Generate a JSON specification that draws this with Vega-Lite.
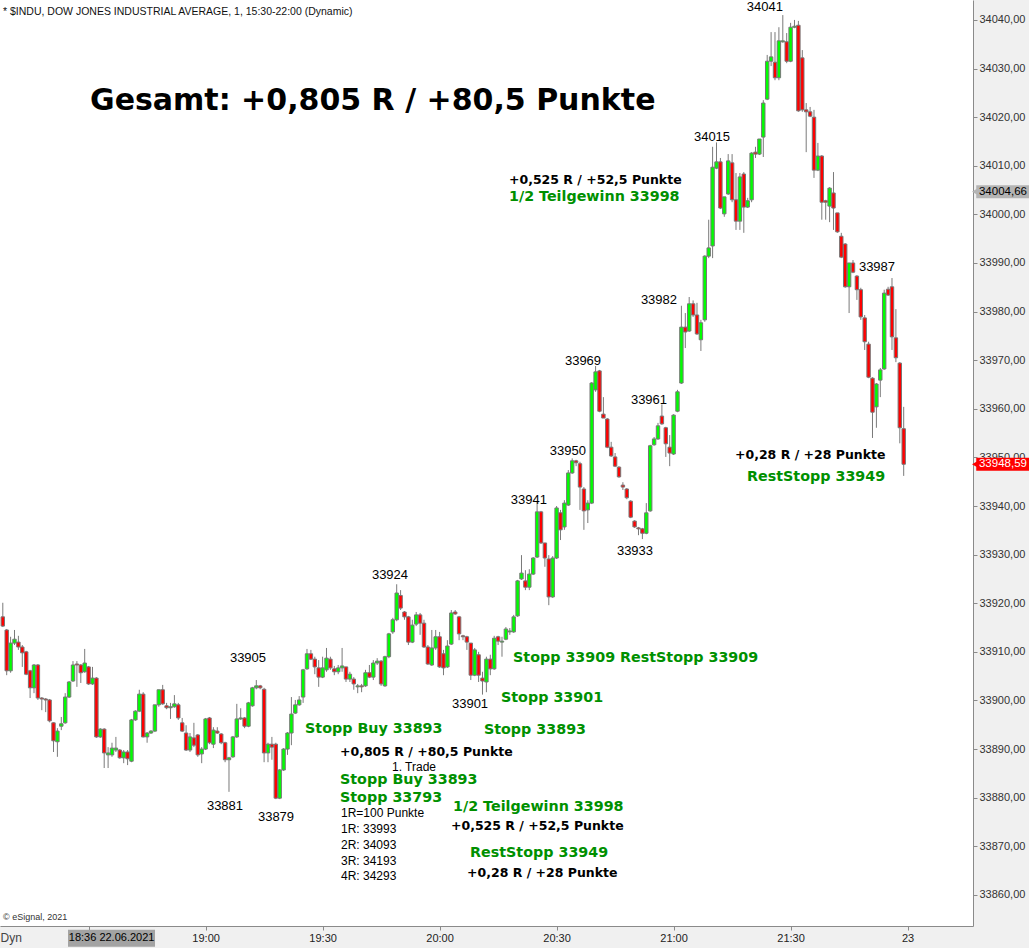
{
"$schema": "https://vega.github.io/schema/vega-lite/v6.json",
"width": 973, "height": 926,
"autosize": {"type": "none"},
"padding": {"left": 0, "top": 0, "right": 56, "bottom": 22},
"background": "#f0f0f0",
"config": {"view": {"fill": "white", "stroke": null}, "font": "Liberation Sans"},
"datasets": {
"candles": [
{"min":8,"open":33917.2,"high":33920.1,"low":33915.1,"close":33915.3},
{"min":9,"open":33914.5,"high":33914.7,"low":33905.2,"close":33906.1},
{"min":10,"open":33906.1,"high":33913.1,"low":33905.7,"close":33911.8},
{"min":11,"open":33911.8,"high":33914.5,"low":33911.4,"close":33912.6},
{"min":12,"open":33912.0,"high":33913.3,"low":33910.4,"close":33911.0},
{"min":13,"open":33911.0,"high":33911.4,"low":33906.9,"close":33909.8},
{"min":14,"open":33910.0,"high":33910.2,"low":33905.2,"close":33905.4},
{"min":15,"open":33906.1,"high":33906.3,"low":33900.5,"close":33902.6},
{"min":16,"open":33902.6,"high":33907.5,"low":33901.5,"close":33907.3},
{"min":17,"open":33907.3,"high":33907.5,"low":33900.1,"close":33900.5},
{"min":18,"open":33900.5,"high":33900.7,"low":33898.0,"close":33900.3},
{"min":19,"open":33900.3,"high":33900.5,"low":33897.6,"close":33900.1},
{"min":20,"open":33900.1,"high":33900.3,"low":33895.5,"close":33895.8},
{"min":21,"open":33895.4,"high":33895.5,"low":33889.4,"close":33891.7},
{"min":22,"open":33891.5,"high":33894.3,"low":33888.4,"close":33893.7},
{"min":23,"open":33894.7,"high":33896.6,"low":33893.9,"close":33895.2},
{"min":24,"open":33895.4,"high":33901.5,"low":33895.2,"close":33900.7},
{"min":25,"open":33900.7,"high":33904.0,"low":33900.5,"close":33903.8},
{"min":26,"open":33904.0,"high":33908.1,"low":33903.8,"close":33907.3},
{"min":27,"open":33907.5,"high":33908.1,"low":33902.8,"close":33907.3},
{"min":28,"open":33907.3,"high":33907.5,"low":33903.6,"close":33905.7},
{"min":29,"open":33905.9,"high":33910.6,"low":33905.7,"close":33907.7},
{"min":30,"open":33906.9,"high":33907.1,"low":33903.2,"close":33903.4},
{"min":31,"open":33903.4,"high":33906.9,"low":33903.2,"close":33904.6},
{"min":32,"open":33904.6,"high":33904.8,"low":33892.3,"close":33892.5},
{"min":33,"open":33892.5,"high":33894.3,"low":33892.3,"close":33894.1},
{"min":34,"open":33894.1,"high":33894.3,"low":33886.1,"close":33889.2},
{"min":35,"open":33888.8,"high":33890.4,"low":33886.1,"close":33889.2},
{"min":36,"open":33888.8,"high":33891.3,"low":33888.4,"close":33890.2},
{"min":37,"open":33889.8,"high":33892.5,"low":33889.4,"close":33890.2},
{"min":38,"open":33889.8,"high":33890.0,"low":33888.0,"close":33888.2},
{"min":39,"open":33888.2,"high":33889.8,"low":33887.1,"close":33889.4},
{"min":40,"open":33889.4,"high":33889.8,"low":33886.7,"close":33888.0},
{"min":41,"open":33887.5,"high":33896.2,"low":33887.3,"close":33896.0},
{"min":42,"open":33896.0,"high":33898.0,"low":33895.8,"close":33897.8},
{"min":43,"open":33897.8,"high":33902.2,"low":33897.6,"close":33901.3},
{"min":44,"open":33901.3,"high":33901.7,"low":33892.4,"close":33892.5},
{"min":45,"open":33892.5,"high":33893.5,"low":33891.3,"close":33893.3},
{"min":46,"open":33893.3,"high":33893.9,"low":33893.1,"close":33893.7},
{"min":47,"open":33893.7,"high":33899.1,"low":33893.5,"close":33899.1},
{"min":48,"open":33899.1,"high":33902.2,"low":33898.7,"close":33902.2},
{"min":49,"open":33902.2,"high":33903.2,"low":33899.1,"close":33899.3},
{"min":50,"open":33898.9,"high":33899.5,"low":33898.2,"close":33898.5},
{"min":51,"open":33898.5,"high":33899.5,"low":33896.2,"close":33898.7},
{"min":52,"open":33898.7,"high":33901.1,"low":33898.5,"close":33899.3},
{"min":53,"open":33899.1,"high":33899.5,"low":33896.0,"close":33896.4},
{"min":54,"open":33895.4,"high":33896.4,"low":33893.5,"close":33893.7},
{"min":55,"open":33893.3,"high":33894.9,"low":33889.6,"close":33889.8},
{"min":56,"open":33889.8,"high":33893.3,"low":33889.4,"close":33892.5},
{"min":57,"open":33892.3,"high":33895.4,"low":33890.4,"close":33890.8},
{"min":58,"open":33892.9,"high":33893.1,"low":33888.4,"close":33888.8},
{"min":59,"open":33889.0,"high":33890.4,"low":33887.1,"close":33890.0},
{"min":60,"open":33890.0,"high":33896.4,"low":33889.8,"close":33896.2},
{"min":61,"open":33896.4,"high":33896.6,"low":33891.0,"close":33891.3},
{"min":62,"open":33891.0,"high":33894.5,"low":33890.2,"close":33893.9},
{"min":63,"open":33893.7,"high":33894.5,"low":33893.1,"close":33893.3},
{"min":64,"open":33893.1,"high":33893.3,"low":33891.0,"close":33891.3},
{"min":65,"open":33891.3,"high":33891.5,"low":33887.3,"close":33887.8},
{"min":66,"open":33887.8,"high":33888.4,"low":33881.2,"close":33888.2},
{"min":67,"open":33888.4,"high":33892.7,"low":33888.2,"close":33892.5},
{"min":68,"open":33892.5,"high":33899.3,"low":33892.3,"close":33896.2},
{"min":69,"open":33896.2,"high":33898.4,"low":33896.0,"close":33896.4},
{"min":70,"open":33896.4,"high":33896.6,"low":33894.3,"close":33894.7},
{"min":71,"open":33894.7,"high":33899.7,"low":33894.5,"close":33899.5},
{"min":72,"open":33898.9,"high":33902.8,"low":33898.7,"close":33902.6},
{"min":73,"open":33902.6,"high":33904.2,"low":33902.3,"close":33903.0},
{"min":74,"open":33903.0,"high":33903.2,"low":33902.3,"close":33902.6},
{"min":75,"open":33902.3,"high":33902.6,"low":33887.3,"close":33889.2},
{"min":76,"open":33889.2,"high":33891.3,"low":33887.3,"close":33891.0},
{"min":77,"open":33891.0,"high":33892.5,"low":33887.8,"close":33890.4},
{"min":78,"open":33891.0,"high":33891.3,"low":33879.7,"close":33879.9},
{"min":79,"open":33879.9,"high":33885.9,"low":33879.7,"close":33885.7},
{"min":80,"open":33885.7,"high":33890.2,"low":33885.5,"close":33890.0},
{"min":81,"open":33890.0,"high":33893.5,"low":33888.8,"close":33893.3},
{"min":82,"open":33893.3,"high":33900.7,"low":33890.8,"close":33897.2},
{"min":83,"open":33897.4,"high":33900.1,"low":33897.2,"close":33899.1},
{"min":84,"open":33899.1,"high":33900.9,"low":33898.9,"close":33900.1},
{"min":85,"open":33900.7,"high":33906.5,"low":33899.5,"close":33906.3},
{"min":86,"open":33906.5,"high":33910.6,"low":33906.3,"close":33909.6},
{"min":87,"open":33909.6,"high":33910.4,"low":33908.3,"close":33908.5},
{"min":88,"open":33908.5,"high":33909.0,"low":33905.4,"close":33906.9},
{"min":89,"open":33906.7,"high":33908.3,"low":33902.8,"close":33904.8},
{"min":90,"open":33904.8,"high":33909.0,"low":33904.6,"close":33906.7},
{"min":91,"open":33906.3,"high":33910.8,"low":33905.9,"close":33908.7},
{"min":92,"open":33908.5,"high":33909.0,"low":33906.3,"close":33906.7},
{"min":93,"open":33906.5,"high":33907.1,"low":33905.2,"close":33905.9},
{"min":94,"open":33905.9,"high":33907.3,"low":33905.4,"close":33906.7},
{"min":95,"open":33906.7,"high":33910.8,"low":33905.9,"close":33907.1},
{"min":96,"open":33906.9,"high":33906.9,"low":33903.8,"close":33904.4},
{"min":97,"open":33904.4,"high":33905.9,"low":33903.8,"close":33905.4},
{"min":98,"open":33904.4,"high":33904.8,"low":33902.2,"close":33903.4},
{"min":99,"open":33902.8,"high":33903.4,"low":33901.5,"close":33903.0},
{"min":100,"open":33903.0,"high":33903.4,"low":33901.7,"close":33902.8},
{"min":101,"open":33903.0,"high":33906.3,"low":33902.8,"close":33905.7},
{"min":102,"open":33905.7,"high":33907.3,"low":33904.6,"close":33904.8},
{"min":103,"open":33904.8,"high":33908.3,"low":33904.2,"close":33907.7},
{"min":104,"open":33907.7,"high":33908.7,"low":33907.3,"close":33908.1},
{"min":105,"open":33908.1,"high":33908.3,"low":33903.0,"close":33903.4},
{"min":106,"open":33903.0,"high":33909.2,"low":33902.8,"close":33909.0},
{"min":107,"open":33909.0,"high":33913.9,"low":33908.7,"close":33913.7},
{"min":108,"open":33914.1,"high":33917.0,"low":33913.7,"close":33916.6},
{"min":109,"open":33916.6,"high":33923.9,"low":33916.3,"close":33922.1},
{"min":110,"open":33921.6,"high":33922.7,"low":33918.6,"close":33919.0},
{"min":111,"open":33918.2,"high":33918.4,"low":33916.6,"close":33917.2},
{"min":112,"open":33917.2,"high":33917.4,"low":33911.4,"close":33912.0},
{"min":113,"open":33912.0,"high":33916.6,"low":33911.8,"close":33915.5},
{"min":114,"open":33915.7,"high":33918.2,"low":33915.3,"close":33917.6},
{"min":115,"open":33917.6,"high":33918.0,"low":33913.5,"close":33915.9},
{"min":116,"open":33915.9,"high":33916.6,"low":33910.8,"close":33911.0},
{"min":117,"open":33911.0,"high":33911.4,"low":33907.3,"close":33907.5},
{"min":118,"open":33907.3,"high":33914.5,"low":33907.1,"close":33910.8},
{"min":119,"open":33910.8,"high":33914.5,"low":33910.4,"close":33913.1},
{"min":120,"open":33913.1,"high":33914.1,"low":33906.7,"close":33906.9},
{"min":121,"open":33909.6,"high":33910.4,"low":33905.2,"close":33906.7},
{"min":122,"open":33906.9,"high":33912.4,"low":33906.7,"close":33911.2},
{"min":123,"open":33911.6,"high":33918.6,"low":33911.4,"close":33918.0},
{"min":124,"open":33918.2,"high":33918.6,"low":33917.6,"close":33917.8},
{"min":125,"open":33917.2,"high":33917.4,"low":33912.4,"close":33913.7},
{"min":126,"open":33913.3,"high":33913.5,"low":33912.4,"close":33913.1},
{"min":127,"open":33913.1,"high":33913.3,"low":33910.4,"close":33912.0},
{"min":128,"open":33911.8,"high":33911.8,"low":33904.2,"close":33905.2},
{"min":129,"open":33905.2,"high":33910.8,"low":33905.0,"close":33910.4},
{"min":130,"open":33909.4,"high":33910.0,"low":33903.8,"close":33905.2},
{"min":131,"open":33904.6,"high":33905.9,"low":33901.2,"close":33904.0},
{"min":132,"open":33903.8,"high":33909.0,"low":33901.7,"close":33908.5},
{"min":133,"open":33908.5,"high":33909.4,"low":33905.2,"close":33906.5},
{"min":134,"open":33906.5,"high":33913.3,"low":33906.3,"close":33912.8},
{"min":135,"open":33913.1,"high":33913.3,"low":33911.4,"close":33912.2},
{"min":136,"open":33912.0,"high":33913.1,"low":33909.0,"close":33912.2},
{"min":137,"open":33912.6,"high":33915.1,"low":33912.4,"close":33914.7},
{"min":138,"open":33914.1,"high":33914.9,"low":33913.5,"close":33914.3},
{"min":139,"open":33914.1,"high":33917.6,"low":33913.9,"close":33917.2},
{"min":140,"open":33917.4,"high":33924.8,"low":33917.2,"close":33924.6},
{"min":141,"open":33925.0,"high":33929.9,"low":33924.8,"close":33926.2},
{"min":142,"open":33924.6,"high":33926.8,"low":33922.7,"close":33923.3},
{"min":143,"open":33923.3,"high":33927.0,"low":33922.7,"close":33926.0},
{"min":144,"open":33926.0,"high":33929.5,"low":33925.8,"close":33929.3},
{"min":145,"open":33929.5,"high":33940.9,"low":33929.3,"close":33938.8},
{"min":146,"open":33938.8,"high":33939.0,"low":33932.2,"close":33932.4},
{"min":147,"open":33932.4,"high":33932.4,"low":33927.5,"close":33929.3},
{"min":148,"open":33929.1,"high":33929.9,"low":33919.6,"close":33921.3},
{"min":149,"open":33921.3,"high":33929.7,"low":33921.1,"close":33929.3},
{"min":150,"open":33929.3,"high":33940.0,"low":33929.1,"close":33939.6},
{"min":151,"open":33938.6,"high":33939.2,"low":33933.0,"close":33935.1},
{"min":152,"open":33935.7,"high":33941.2,"low":33935.1,"close":33940.6},
{"min":153,"open":33940.2,"high":33947.4,"low":33940.0,"close":33946.8},
{"min":154,"open":33946.8,"high":33949.8,"low":33946.6,"close":33949.3},
{"min":155,"open":33949.3,"high":33949.5,"low":33948.2,"close":33948.9},
{"min":156,"open":33948.7,"high":33949.1,"low":33939.2,"close":33943.9},
{"min":157,"open":33943.5,"high":33943.9,"low":33935.1,"close":33939.0},
{"min":158,"open":33939.2,"high":33941.2,"low":33936.5,"close":33940.6},
{"min":159,"open":33940.6,"high":33965.5,"low":33940.4,"close":33965.3},
{"min":160,"open":33963.9,"high":33968.8,"low":33963.5,"close":33967.6},
{"min":161,"open":33967.8,"high":33968.0,"low":33959.3,"close":33959.5},
{"min":162,"open":33958.9,"high":33962.4,"low":33958.1,"close":33958.1},
{"min":163,"open":33957.9,"high":33958.1,"low":33951.9,"close":33952.1},
{"min":164,"open":33952.1,"high":33953.2,"low":33950.1,"close":33950.3},
{"min":165,"open":33950.1,"high":33950.9,"low":33948.0,"close":33948.2},
{"min":166,"open":33948.0,"high":33948.2,"low":33945.8,"close":33946.0},
{"min":167,"open":33944.3,"high":33944.9,"low":33943.3,"close":33943.9},
{"min":168,"open":33943.5,"high":33943.7,"low":33941.4,"close":33941.7},
{"min":169,"open":33941.0,"high":33941.2,"low":33937.5,"close":33937.7},
{"min":170,"open":33936.9,"high":33937.1,"low":33935.5,"close":33935.7},
{"min":171,"open":33935.5,"high":33935.7,"low":33934.0,"close":33935.3},
{"min":172,"open":33935.3,"high":33935.5,"low":33933.2,"close":33934.4},
{"min":173,"open":33934.4,"high":33940.6,"low":33934.2,"close":33938.6},
{"min":174,"open":33939.0,"high":33952.6,"low":33938.8,"close":33952.4},
{"min":175,"open":33952.6,"high":33954.2,"low":33952.4,"close":33953.8},
{"min":176,"open":33953.8,"high":33957.1,"low":33953.6,"close":33956.5},
{"min":177,"open":33958.5,"high":33960.9,"low":33956.7,"close":33956.9},
{"min":178,"open":33956.1,"high":33956.3,"low":33950.1,"close":33952.8},
{"min":179,"open":33952.1,"high":33954.6,"low":33948.2,"close":33950.9},
{"min":180,"open":33950.7,"high":33958.9,"low":33950.5,"close":33958.7},
{"min":181,"open":33959.5,"high":33963.9,"low":33959.3,"close":33963.5},
{"min":182,"open":33965.3,"high":33981.2,"low":33965.1,"close":33976.8},
{"min":183,"open":33976.8,"high":33979.7,"low":33972.5,"close":33975.8},
{"min":184,"open":33976.0,"high":33983.0,"low":33975.8,"close":33981.6},
{"min":185,"open":33981.6,"high":33982.3,"low":33978.9,"close":33979.3},
{"min":186,"open":33979.3,"high":33981.8,"low":33975.2,"close":33975.4},
{"min":187,"open":33974.2,"high":33978.3,"low":33971.9,"close":33977.7},
{"min":188,"open":33978.3,"high":33991.6,"low":33977.9,"close":33991.4},
{"min":189,"open":33991.4,"high":33998.9,"low":33991.0,"close":33993.1},
{"min":190,"open":33993.5,"high":34013.9,"low":33991.0,"close":34009.7},
{"min":191,"open":34009.5,"high":34014.8,"low":34009.3,"close":34010.8},
{"min":192,"open":34010.8,"high":34011.6,"low":34001.1,"close":34001.3},
{"min":193,"open":34000.1,"high":34003.6,"low":33999.5,"close":34003.6},
{"min":194,"open":34004.2,"high":34012.4,"low":34004.0,"close":34011.0},
{"min":195,"open":34010.6,"high":34012.4,"low":34002.5,"close":34003.0},
{"min":196,"open":34003.0,"high":34008.5,"low":33996.8,"close":33998.6},
{"min":197,"open":33998.6,"high":34008.5,"low":33996.8,"close":34007.7},
{"min":198,"open":34008.3,"high":34008.7,"low":33996.2,"close":34001.5},
{"min":199,"open":34001.5,"high":34003.4,"low":34001.3,"close":34002.8},
{"min":200,"open":34003.0,"high":34012.8,"low":34002.5,"close":34012.6},
{"min":201,"open":34012.8,"high":34013.9,"low":34011.6,"close":34012.4},
{"min":202,"open":34012.4,"high":34015.5,"low":34012.2,"close":34015.5},
{"min":203,"open":34015.9,"high":34023.5,"low":34011.8,"close":34022.9},
{"min":204,"open":34023.7,"high":34032.8,"low":34023.5,"close":34031.5},
{"min":205,"open":34031.5,"high":34037.5,"low":34030.5,"close":34032.4},
{"min":206,"open":34031.3,"high":34037.5,"low":34027.6,"close":34028.1},
{"min":207,"open":34028.1,"high":34038.5,"low":34027.6,"close":34035.7},
{"min":208,"open":34035.5,"high":34041.0,"low":34035.3,"close":34035.7},
{"min":209,"open":34035.5,"high":34037.3,"low":34031.1,"close":34031.5},
{"min":210,"open":34031.5,"high":34039.4,"low":34031.3,"close":34038.5},
{"min":211,"open":34038.5,"high":34040.0,"low":34038.3,"close":34038.7},
{"min":212,"open":34038.9,"high":34039.8,"low":34021.1,"close":34021.3},
{"min":213,"open":34032.2,"high":34033.8,"low":34021.1,"close":34021.5},
{"min":214,"open":34021.5,"high":34022.9,"low":34012.8,"close":34021.1},
{"min":215,"open":34021.1,"high":34022.1,"low":34020.0,"close":34020.2},
{"min":216,"open":34020.0,"high":34021.5,"low":34007.5,"close":34009.1},
{"min":217,"open":34009.1,"high":34014.7,"low":34008.9,"close":34012.0},
{"min":218,"open":34012.0,"high":34012.2,"low":33998.9,"close":34002.5},
{"min":219,"open":34002.8,"high":34003.0,"low":33998.9,"close":34002.5},
{"min":220,"open":34001.7,"high":34005.6,"low":33998.4,"close":34005.4},
{"min":221,"open":34004.4,"high":34008.7,"low":33996.8,"close":34001.3},
{"min":222,"open":34000.3,"high":34000.3,"low":33996.2,"close":33996.4},
{"min":223,"open":33995.5,"high":33996.2,"low":33991.0,"close":33991.2},
{"min":224,"open":33993.9,"high":33994.1,"low":33984.9,"close":33985.1},
{"min":225,"open":33985.1,"high":33990.0,"low":33979.7,"close":33990.0},
{"min":226,"open":33990.0,"high":33990.6,"low":33987.9,"close":33988.1},
{"min":227,"open":33987.3,"high":33987.5,"low":33982.4,"close":33984.5},
{"min":228,"open":33984.5,"high":33984.9,"low":33978.3,"close":33978.9},
{"min":229,"open":33978.7,"high":33979.3,"low":33972.1,"close":33973.8},
{"min":230,"open":33973.3,"high":33973.8,"low":33966.3,"close":33966.5},
{"min":231,"open":33966.3,"high":33966.5,"low":33954.0,"close":33959.3},
{"min":232,"open":33960.4,"high":33965.3,"low":33956.1,"close":33965.1},
{"min":233,"open":33965.9,"high":33968.4,"low":33962.4,"close":33968.0},
{"min":234,"open":33968.2,"high":33984.5,"low":33968.0,"close":33983.8},
{"min":235,"open":33984.6,"high":33985.1,"low":33983.2,"close":33983.4},
{"min":236,"open":33985.1,"high":33986.9,"low":33972.1,"close":33974.8},
{"min":237,"open":33974.6,"high":33980.5,"low":33969.6,"close":33970.5},
{"min":238,"open":33969.4,"high":33969.6,"low":33952.9,"close":33956.1},
{"min":239,"open":33955.9,"high":33960.4,"low":33946.2,"close":33948.59}
],
"notes": [
{"text":"* $INDU, DOW JONES INDUSTRIAL AVERAGE, 1, 15:30-22:00 (Dynamic)","min":8.05,"price":34041.6,"kind":"header"},
{"text":"Gesamt: +0,805 R / +80,5 Punkte","min":30.36,"price":34023.3,"kind":"big"},
{"text":"34041","min":203.4,"price":34042.7,"kind":"label"},
{"text":"34015","min":189.85,"price":34015.9,"kind":"label"},
{"text":"33987","min":232.15,"price":33989.2,"kind":"label"},
{"text":"33982","min":176.25,"price":33982.4,"kind":"label"},
{"text":"33969","min":156.77,"price":33969.8,"kind":"label"},
{"text":"33961","min":173.69,"price":33961.8,"kind":"label"},
{"text":"33950","min":152.9,"price":33951.3,"kind":"label"},
{"text":"33941","min":142.9,"price":33941.2,"kind":"label"},
{"text":"33933","min":170.1,"price":33930.7,"kind":"label"},
{"text":"33924","min":107.28,"price":33925.8,"kind":"label"},
{"text":"33905","min":70.87,"price":33908.7,"kind":"label"},
{"text":"33901","min":127.8,"price":33899.3,"kind":"label"},
{"text":"33881","min":64.97,"price":33878.3,"kind":"label"},
{"text":"33879","min":78.05,"price":33876.1,"kind":"label"},
{"text":"+0,525 R / +52,5 Punkte","min":137.79,"price":34007.1,"kind":"result"},
{"text":"+0,805 R / +80,5 Punkte","min":94.46,"price":33889.4,"kind":"result"},
{"text":"+0,525 R / +52,5 Punkte","min":122.92,"price":33874.1,"kind":"result"},
{"text":"+0,28 R / +28 Punkte","min":195.74,"price":33950.5,"kind":"result"},
{"text":"+0,28 R / +28 Punkte","min":127.03,"price":33864.6,"kind":"result"},
{"text":"1/2 Teilgewinn 33998","min":137.79,"price":34003.6,"kind":"order"},
{"text":"RestStopp 33949","min":198.82,"price":33945.9,"kind":"order"},
{"text":"Stopp 33909","min":138.82,"price":33908.7,"kind":"order"},
{"text":"RestStopp 33909","min":166.26,"price":33908.7,"kind":"order"},
{"text":"Stopp 33901","min":135.74,"price":33900.5,"kind":"order"},
{"text":"Stopp Buy 33893","min":85.49,"price":33894.1,"kind":"order"},
{"text":"Stopp 33893","min":131.36,"price":33893.9,"kind":"order"},
{"text":"Stopp Buy 33893","min":94.46,"price":33883.6,"kind":"order"},
{"text":"Stopp 33793","min":94.46,"price":33879.9,"kind":"order"},
{"text":"1/2 Teilgewinn 33998","min":123.44,"price":33878.1,"kind":"order"},
{"text":"RestStopp 33949","min":127.79,"price":33868.6,"kind":"order"},
{"text":"1. Trade","min":107.79,"price":33886.3,"kind":"small"},
{"text":"1R=100 Punkte","min":94.72,"price":33876.9,"kind":"small"},
{"text":"1R: 33993","min":94.72,"price":33873.6,"kind":"small"},
{"text":"2R: 34093","min":94.72,"price":33870.3,"kind":"small"},
{"text":"3R: 34193","min":94.72,"price":33867.0,"kind":"small"},
{"text":"4R: 34293","min":94.72,"price":33863.9,"kind":"small"},
{"text":"© eSignal, 2021","min":8.05,"price":33855.5,"kind":"footer"}
],
"markers": [
{"label":"34004,66","price":34004.66,"kind":"gray"},
{"label":"33948,59","price":33948.59,"kind":"red"}
],
"cursor": [
{"label":"18:36 22.06.2021","price":33851.1}
]
},
"layer": [
{
"data": {"name": "candles"},
"mark": {"type": "rule", "color": "#7a7a7a", "strokeWidth": 1, "clip": true},
"encoding": {
"x": {"field": "min", "type": "quantitative", "title": null,
"scale": {"domain": [7.282, 256.77], "nice": false, "zero": false, "padding": 0},
"axis": {"orient": "bottom", "values": [30, 60, 90, 120, 150, 180, 210, 240], "grid": false, "title": null,
"labelExpr": "datum.value == 60 ? '19:00' : datum.value == 90 ? '19:30' : datum.value == 120 ? '20:00' : datum.value == 150 ? '20:30' : datum.value == 180 ? '21:00' : datum.value == 210 ? '21:30' : datum.value == 240 ? '23' : ''",
"domainColor": "#8a8a8a", "tickColor": "#8a8a8a", "tickSize": 4, "labelPadding": 2, "labelFontSize": 11, "labelColor": "#222222", "labelFont": "Liberation Sans", "labelOverlap": false, "labelFlush": false}},
"y": {"field": "low", "type": "quantitative", "title": null,
"scale": {"domain": [33853.6, 34044.1], "nice": false, "zero": false, "padding": 0},
"axis": {"orient": "right", "values": [33860, 33870, 33880, 33890, 33900, 33910, 33920, 33930, 33940, 33950, 33960, 33970, 33980, 33990, 34000, 34010, 34020, 34030, 34040], "grid": false, "title": null,
"labelExpr": "replace(format(datum.value, '.2f'), '.', ',')",
"domainColor": "#8a8a8a", "tickColor": "#8a8a8a", "tickSize": 4, "labelPadding": 2, "labelFontSize": 11, "labelColor": "#333333", "labelFont": "Liberation Sans", "labelOverlap": false, "labelFlush": false}},
"y2": {"field": "high"}
}
},
{
"data": {"name": "candles"},
"mark": {"type": "bar", "width": 3.4, "stroke": "#777777", "strokeWidth": 1, "clip": true},
"encoding": {
"x": {"field": "min", "type": "quantitative", "title": null},
"y": {"field": "open", "type": "quantitative", "title": null},
"y2": {"field": "close"},
"fill": {"condition": {"test": "datum.close > datum.open", "value": "#00ff00"}, "value": "#ff0000"}
}
},
{
"data": {"name": "notes"},
"transform": [{"filter": "datum.kind == 'header'"}],
"mark": {"type": "text", "align": "left", "baseline": "middle", "font": "Liberation Sans", "fontSize": 10.5, "color": "#111111"},
"encoding": {"x": {"field": "min", "type": "quantitative", "title": null}, "y": {"field": "price", "type": "quantitative", "title": null}, "text": {"field": "text"}}
},
{
"data": {"name": "notes"},
"transform": [{"filter": "datum.kind == 'big'"}],
"mark": {"type": "text", "align": "left", "baseline": "middle", "font": "DejaVu Sans", "fontWeight": "bold", "fontSize": 30, "color": "#000000"},
"encoding": {"x": {"field": "min", "type": "quantitative", "title": null}, "y": {"field": "price", "type": "quantitative", "title": null}, "text": {"field": "text"}}
},
{
"data": {"name": "notes"},
"transform": [{"filter": "datum.kind == 'label'"}],
"mark": {"type": "text", "align": "center", "baseline": "middle", "font": "Liberation Sans", "fontSize": 13, "color": "#000000"},
"encoding": {"x": {"field": "min", "type": "quantitative", "title": null}, "y": {"field": "price", "type": "quantitative", "title": null}, "text": {"field": "text"}}
},
{
"data": {"name": "notes"},
"transform": [{"filter": "datum.kind == 'result'"}],
"mark": {"type": "text", "align": "left", "baseline": "middle", "font": "DejaVu Sans", "fontWeight": "bold", "fontSize": 12.5, "color": "#000000"},
"encoding": {"x": {"field": "min", "type": "quantitative", "title": null}, "y": {"field": "price", "type": "quantitative", "title": null}, "text": {"field": "text"}}
},
{
"data": {"name": "notes"},
"transform": [{"filter": "datum.kind == 'order'"}],
"mark": {"type": "text", "align": "left", "baseline": "middle", "font": "DejaVu Sans", "fontWeight": "bold", "fontSize": 14.3, "color": "#009000"},
"encoding": {"x": {"field": "min", "type": "quantitative", "title": null}, "y": {"field": "price", "type": "quantitative", "title": null}, "text": {"field": "text"}}
},
{
"data": {"name": "notes"},
"transform": [{"filter": "datum.kind == 'small'"}],
"mark": {"type": "text", "align": "left", "baseline": "middle", "font": "Liberation Sans", "fontSize": 12, "color": "#000000"},
"encoding": {"x": {"field": "min", "type": "quantitative", "title": null}, "y": {"field": "price", "type": "quantitative", "title": null}, "text": {"field": "text"}}
},
{
"data": {"name": "notes"},
"transform": [{"filter": "datum.kind == 'footer'"}],
"mark": {"type": "text", "align": "left", "baseline": "middle", "font": "Liberation Sans", "fontSize": 9, "color": "#333333"},
"encoding": {"x": {"field": "min", "type": "quantitative", "title": null}, "y": {"field": "price", "type": "quantitative", "title": null}, "text": {"field": "text"}}
},
{
"data": {"name": "markers"},
"mark": {"type": "bar", "height": 13, "clip": false},
"encoding": {
"x": {"datum": 257.6, "type": "quantitative"},
"x2": {"datum": 271.5},
"y": {"field": "price", "type": "quantitative", "title": null},
"fill": {"condition": {"test": "datum.kind == 'red'", "value": "#ff0000"}, "value": "#b4b4b4"}
}
},
{
"data": {"name": "markers"},
"mark": {"type": "point", "shape": "triangle-left", "filled": true, "size": 45, "opacity": 1, "clip": false},
"encoding": {
"x": {"datum": 257.25, "type": "quantitative"},
"y": {"field": "price", "type": "quantitative", "title": null},
"fill": {"condition": {"test": "datum.kind == 'red'", "value": "#ff0000"}, "value": "#b4b4b4"}
}
},
{
"data": {"name": "markers"},
"mark": {"type": "text", "align": "left", "baseline": "middle", "font": "Liberation Sans", "fontSize": 11.5, "clip": false},
"encoding": {
"x": {"datum": 258.3, "type": "quantitative"},
"y": {"field": "price", "type": "quantitative", "title": null},
"text": {"field": "label"},
"color": {"condition": {"test": "datum.kind == 'red'", "value": "#ffffff"}, "value": "#000000"}
}
},
{
"data": {"name": "cursor"},
"mark": {"type": "bar", "height": 17, "color": "#a3a3a3", "clip": false},
"encoding": {
"x": {"datum": 24.72, "type": "quantitative"},
"x2": {"datum": 47.03},
"y": {"field": "price", "type": "quantitative", "title": null}
}
},
{
"data": {"name": "cursor"},
"mark": {"type": "text", "align": "center", "baseline": "middle", "font": "Liberation Sans", "fontSize": 11, "color": "#000000", "clip": false},
"encoding": {
"x": {"datum": 35.9, "type": "quantitative"},
"y": {"field": "price", "type": "quantitative", "title": null},
"text": {"field": "label"}
}
},
{
"data": {"values": [{"label": "Dyn", "price": 33851.1}]},
"mark": {"type": "text", "align": "left", "baseline": "middle", "font": "Liberation Sans", "fontSize": 12, "color": "#444444", "clip": false},
"encoding": {
"x": {"datum": 7.4, "type": "quantitative"},
"y": {"field": "price", "type": "quantitative", "title": null},
"text": {"field": "label"}
}
}
]
}
